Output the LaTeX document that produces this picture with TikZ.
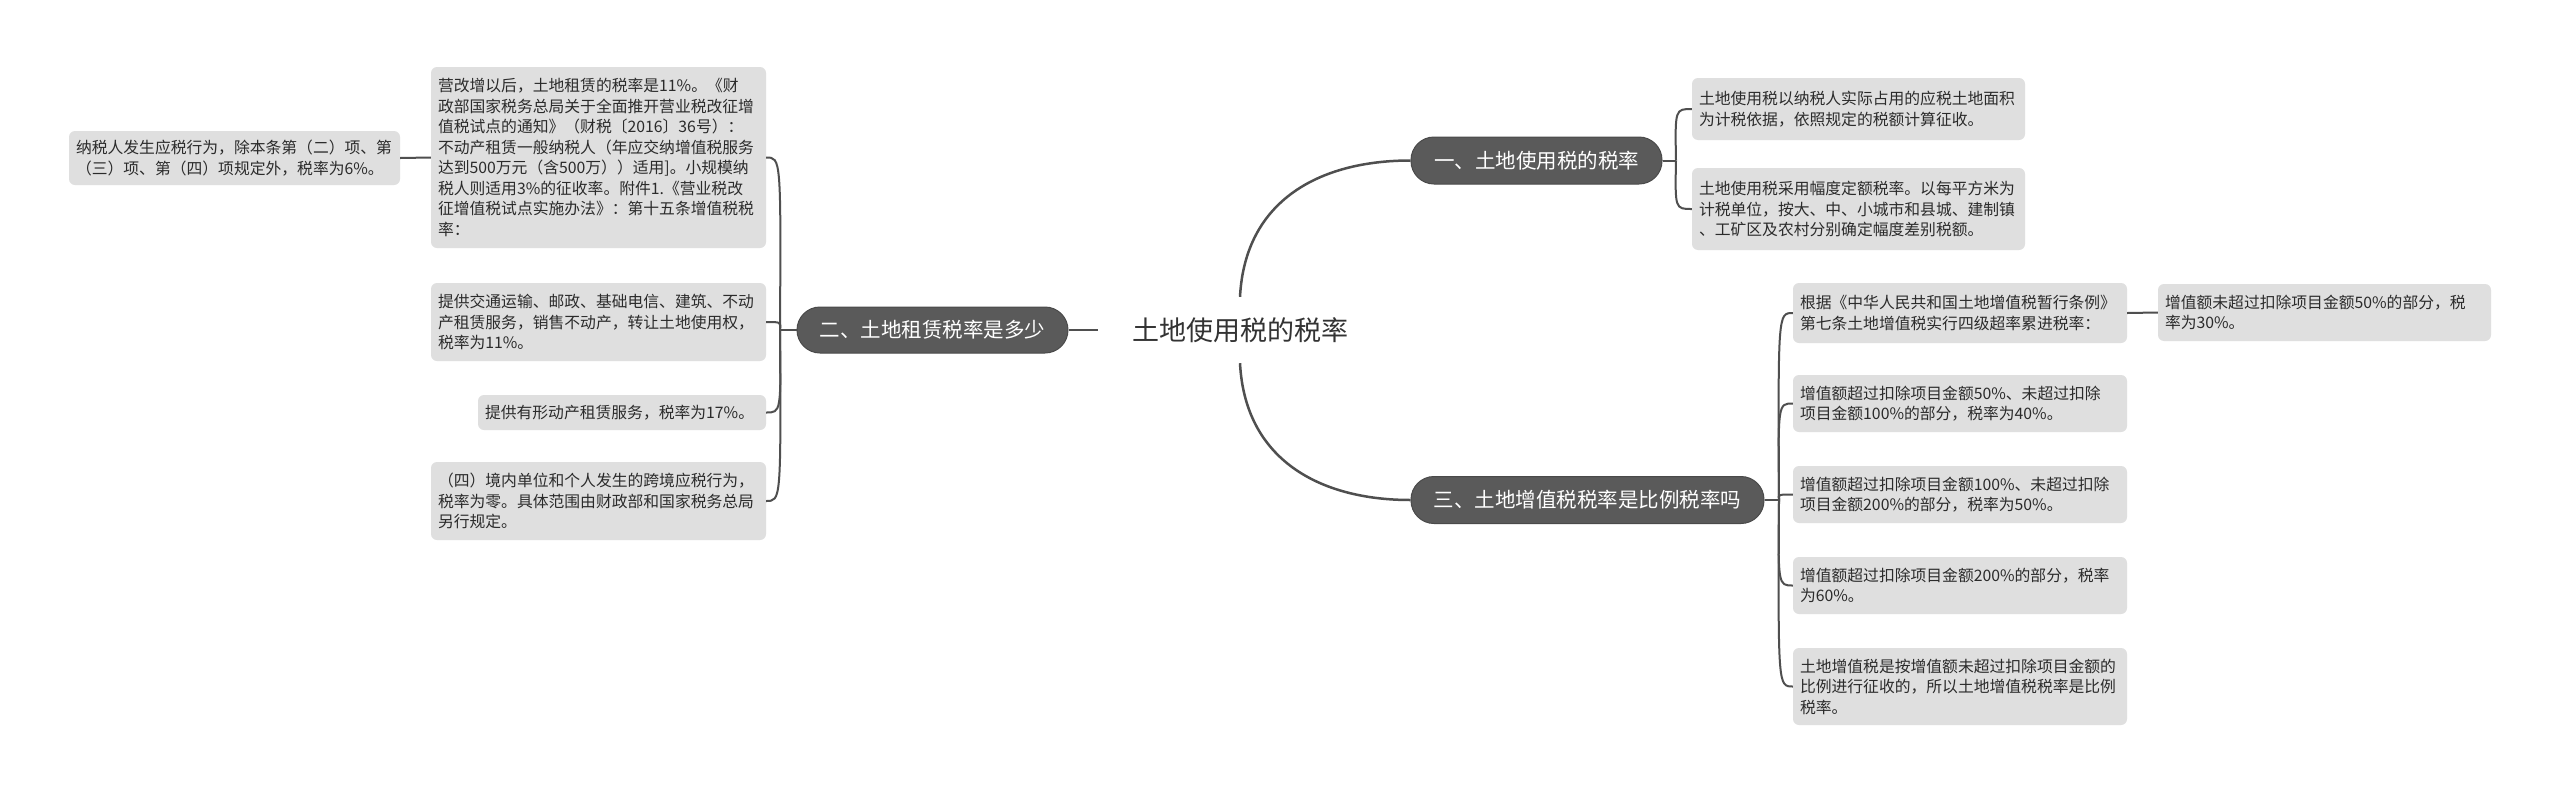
\documentclass[tikz,border=0pt]{standalone}
\usepackage{fontspec}
\setmainfont{Noto Sans CJK SC}
\definecolor{mainfill}{HTML}{5A5A5A}
\definecolor{mainborder}{HTML}{4A4A4A}
\definecolor{linec}{HTML}{4F4F4F}
\definecolor{leaffill}{HTML}{DFDFDF}
\definecolor{leaftext}{HTML}{2B2B2B}
\definecolor{roottext}{HTML}{333333}
\tikzset{
  topic/.style={fill=mainfill, draw=mainborder, line width=1pt, text=white,
    font=\fontsize{20.5}{24}\selectfont, inner sep=0pt, rounded corners=23pt},
  leaf/.style={fill=leaffill, text=leaftext, font=\fontsize{15.8}{20.5}\selectfont,
    align=left, rounded corners=6pt, inner xsep=7pt, inner ysep=0pt},
  conn/.style={draw=linec, line width=2pt},
  rootconn/.style={draw=linec, line width=2.5pt},
}
\begin{document}
\begin{tikzpicture}[x=1pt,y=-1pt]
\fill[white] (0,0) rectangle (2560,793);
\useasboundingbox (0,0) rectangle (2560,793);

% root
\node[text=roottext, font=\fontsize{27}{32}\selectfont, inner xsep=34pt, inner ysep=0pt, minimum height=66pt] (root) at (1240,330) {土地使用税的税率};

% main topics
\node[topic, minimum width=251pt, minimum height=47pt] (n1) at (1536.5,160.5) {一、土地使用税的税率};
\node[topic, minimum width=271pt, minimum height=46pt] (n2) at (932.5,330) {二、土地租赁税率是多少};
\node[topic, minimum width=353pt, minimum height=47pt] (n3) at (1587.5,500) {三、土地增值税税率是比例税率吗};

% leaves of n1
\node[leaf, text width=319pt, minimum height=62pt] (A) at (1858.5,109) {土地使用税以纳税人实际占用的应税土地面积\\为计税依据，依照规定的税额计算征收。};
\node[leaf, text width=319pt, minimum height=82pt] (B) at (1858.5,209) {土地使用税采用幅度定额税率。以每平方米为\\计税单位，按大、中、小城市和县城、建制镇\\、工矿区及农村分别确定幅度差别税额。};

% leaves of n3
\node[leaf, text width=320pt, minimum height=60pt] (C) at (1960,313) {根据《中华人民共和国土地增值税暂行条例》\\第七条土地增值税实行四级超率累进税率：};
\node[leaf, text width=319pt, minimum height=57pt] (C2) at (2324.5,312.5) {增值额未超过扣除项目金额50\%的部分，税\\率为30\%。};
\node[leaf, text width=320pt, minimum height=57pt] (D) at (1960,403.5) {增值额超过扣除项目金额50\%、未超过扣除\\项目金额100\%的部分，税率为40\%。};
\node[leaf, text width=320pt, minimum height=57pt] (E) at (1960,494.5) {增值额超过扣除项目金额100\%、未超过扣除\\项目金额200\%的部分，税率为50\%。};
\node[leaf, text width=320pt, minimum height=57pt] (F) at (1960,585.5) {增值额超过扣除项目金额200\%的部分，税率\\为60\%。};
\node[leaf, text width=320pt, minimum height=77pt] (G) at (1960,686.5) {土地增值税是按增值额未超过扣除项目金额的\\比例进行征收的，所以土地增值税税率是比例\\税率。};

% leaves of n2
\node[leaf, text width=321pt, minimum height=181pt] (H) at (598.5,157.5) {营改增以后，土地租赁的税率是11\%。《财\\政部国家税务总局关于全面推开营业税改征增\\值税试点的通知》（财税〔2016〕36号）：\\不动产租赁一般纳税人（年应交纳增值税服务\\达到500万元（含500万））适用]。小规模纳\\税人则适用3\%的征收率。附件1.《营业税改\\征增值税试点实施办法》：第十五条增值税税\\率：};
\node[leaf, text width=317pt, minimum height=54pt] (H2) at (234.5,158) {纳税人发生应税行为，除本条第（二）项、第\\（三）项、第（四）项规定外，税率为6\%。};
\node[leaf, text width=321pt, minimum height=78pt] (I) at (598.5,322) {提供交通运输、邮政、基础电信、建筑、不动\\产租赁服务，销售不动产，转让土地使用权，\\税率为11\%。};
\node[leaf, text width=274pt, minimum height=35pt] (J) at (622,412.5) {提供有形动产租赁服务，税率为17\%。};
\node[leaf, text width=321pt, minimum height=78pt] (K) at (598.5,501) {（四）境内单位和个人发生的跨境应税行为，\\税率为零。具体范围由财政部和国家税务总局\\另行规定。};

% root connectors
\draw[rootconn] (root.north) .. controls (1245,200) and (1320,160.5) .. (n1.west);
\draw[rootconn] (root.south) .. controls (1245,460) and (1320,500) .. (n3.west);
\draw[conn] (n2.east) -- (root.west);

% n2 branches
\coordinate (j2) at (780,330);
\draw[conn] (n2.west) -- (j2);
\foreach \t in {H,I,J,K}
  \draw[conn] (j2) .. controls ([xshift=1pt]j2 |- \t.east) and ([xshift=1pt]j2 |- \t.east) .. (\t.east);
\draw[conn] (H2.east) -- (H.west);

% n1 branches
\coordinate (j1) at (1676,160.5);
\draw[conn] (n1.east) -- (j1);
\foreach \t in {A,B}
  \draw[conn] (j1) .. controls ([xshift=-1pt]j1 |- \t.west) and ([xshift=-1pt]j1 |- \t.west) .. (\t.west);

% n3 branches
\coordinate (j3) at (1779,500);
\draw[conn] (n3.east) -- (j3);
\foreach \t in {C,D,E,F,G}
  \draw[conn] (j3) .. controls ([xshift=-1pt]j3 |- \t.west) and ([xshift=-1pt]j3 |- \t.west) .. (\t.west);
\draw[conn] (C.east) -- (C2.west);
\end{tikzpicture}
\end{document}
